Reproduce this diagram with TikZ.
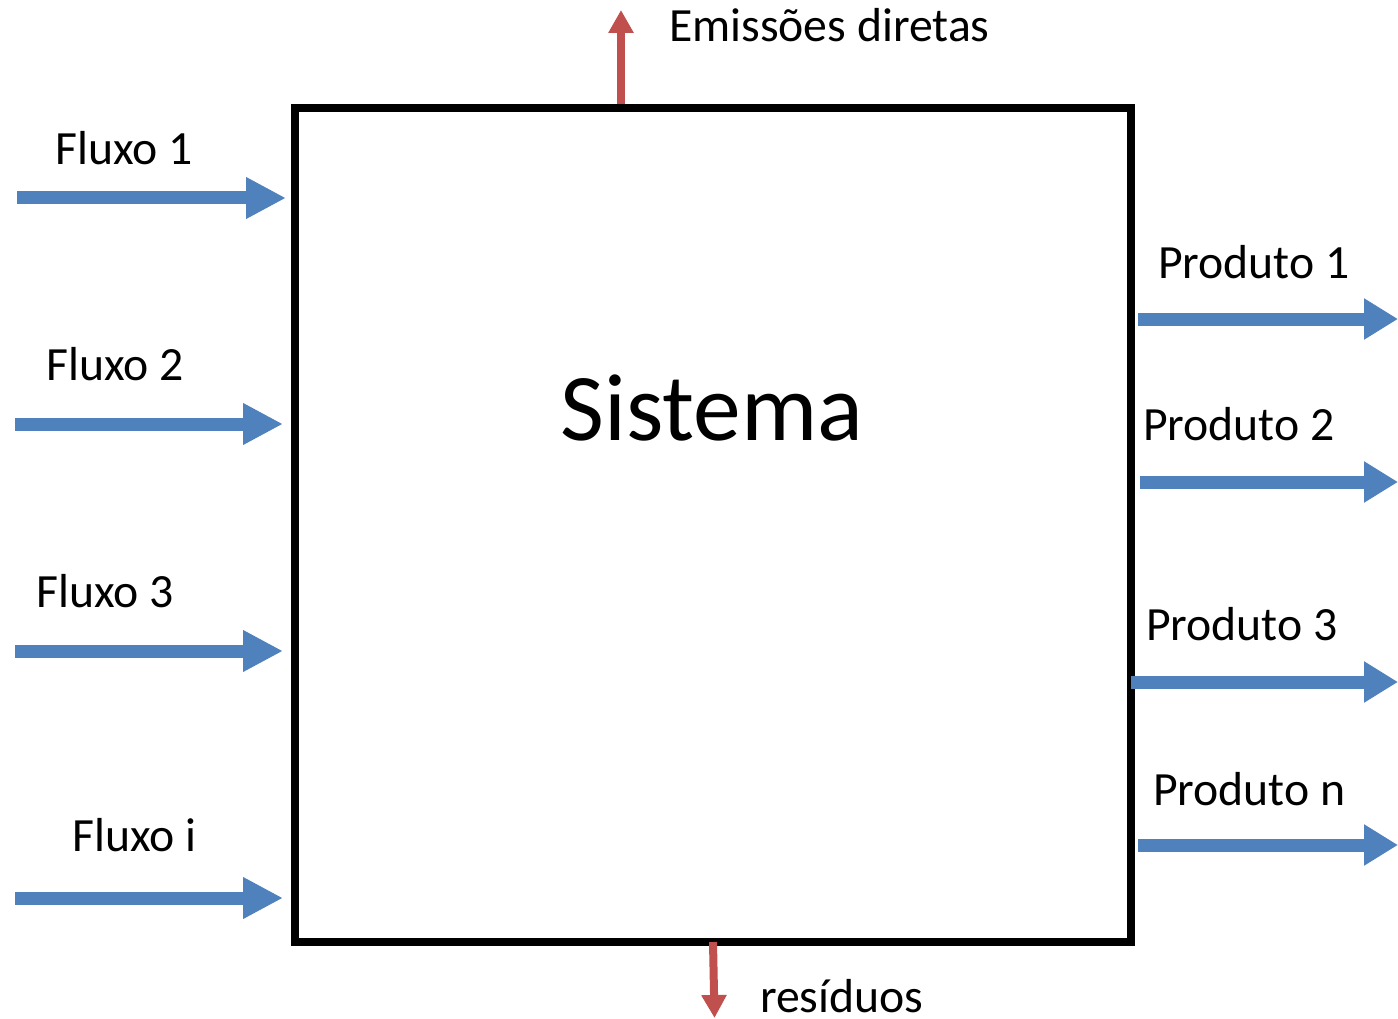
\documentclass[tikz,border=0pt]{standalone}
\usepackage{fontspec}
\setmainfont{Carlito}
\usetikzlibrary{arrows.meta}
\definecolor{flowblue}{HTML}{4F81BD}
\definecolor{wastered}{HTML}{C0504D}
\begin{document}
\begin{tikzpicture}[x=1pt,y=-1pt,
  label/.style={anchor=base west,inner sep=0pt,font=\fontsize{47.7}{56}\selectfont},
  flow/.style={draw=flowblue,line width=13pt,-{Triangle[length=40pt,width=39pt]}},
  outflow/.style={draw=flowblue,line width=13pt,-{Triangle[length=34pt,width=39pt]}},
  emission/.style={draw=wastered,line width=8pt,-{Triangle[length=23pt,width=24pt]}}]
\useasboundingbox (0,0) rectangle (1398,1019);

% the system box
\node[draw,line width=8pt,minimum width=836pt,minimum height=834pt,inner sep=0pt]
  (sys) at (713,525) {};
\node[anchor=base,inner sep=0pt,font=\fontsize{95.5}{110}\selectfont]
  (systxt) at (712,440) {Sistema};

% inputs
\coordinate (in1s) at (17,198);  \coordinate (in1e) at (286,198);
\coordinate (in2s) at (15,424);  \coordinate (in2e) at (283,424);
\coordinate (in3s) at (15,651);  \coordinate (in3e) at (283,651);
\coordinate (inis) at (15,898);  \coordinate (inie) at (283,898);
\draw[flow] (in1s) -- (in1e);
\draw[flow] (in2s) -- (in2e);
\draw[flow] (in3s) -- (in3e);
\draw[flow] (inis) -- (inie);
\node[label] (lf1) at (55,165) {Fluxo 1};
\node[label] (lf2) at (46,380) {Fluxo 2};
\node[label] (lf3) at (36,607) {Fluxo 3};
\node[label] (lfi) at (72,851) {Fluxo i};

% outputs
\coordinate (out1s) at (1138,319); \coordinate (out1e) at (1398,319);
\coordinate (out2s) at (1140,482); \coordinate (out2e) at (1398,482);
\coordinate (out3s) at (1131,682); \coordinate (out3e) at (1398,682);
\coordinate (outns) at (1138,845); \coordinate (outne) at (1398,845);
\draw[outflow] (out1s) -- (out1e);
\draw[outflow] (out2s) -- (out2e);
\draw[outflow] (out3s) -- (out3e);
\draw[outflow] (outns) -- (outne);
\node[label] (lp1) at (1158,278) {Produto 1};
\node[label] (lp2) at (1143,440) {Produto 2};
\node[label] (lp3) at (1146,640) {Produto 3};
\node[label] (lpn) at (1153,805) {Produto n};

% emissions and waste
\coordinate (emis) at (621,104); \coordinate (emie) at (621,10);
\draw[emission] (emis) -- (emie);
\node[label] (lem) at (669,42) {Emissões diretas};
\coordinate (ress) at (713,942); \coordinate (rese) at (714.5,1018);
\draw[emission] (ress) -- (rese);
\node[label] (lres) at (760,1012) {resíduos};
\end{tikzpicture}
\end{document}
